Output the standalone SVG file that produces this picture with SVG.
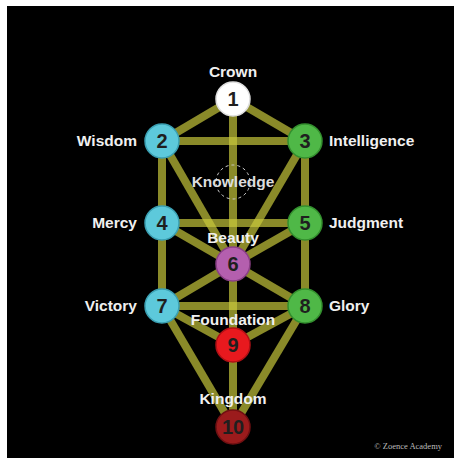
<svg xmlns="http://www.w3.org/2000/svg" width="454" height="458" viewBox="0 0 454 458">
<style>
.c{stroke:#cbcb3c;stroke-opacity:0.68;stroke-width:8;stroke-linecap:butt}
.lbl{font-family:"Liberation Sans",Arial,sans-serif;font-weight:bold;font-size:15.5px;fill:#f0f0f0}
.num{font-family:"Liberation Sans",Arial,sans-serif;font-size:20px;font-weight:bold;fill:#1f1f1f;text-anchor:middle}
.n circle{stroke-width:1.5}
</style>
<rect x="0" y="0" width="454" height="458" fill="#ffffff"/>
<rect x="7" y="6" width="447" height="452" fill="#000000"/>
<g id="connectors">
<line class="c" x1="233" y1="99" x2="162" y2="141"/>
<line class="c" x1="233" y1="99" x2="305" y2="141"/>
<line class="c" x1="233" y1="99" x2="233" y2="264"/>
<line class="c" x1="162" y1="141" x2="305" y2="141"/>
<line class="c" x1="162" y1="141" x2="162" y2="306"/>
<line class="c" x1="305" y1="141" x2="305" y2="306"/>
<line class="c" x1="162" y1="141" x2="233" y2="264"/>
<line class="c" x1="305" y1="141" x2="233" y2="264"/>
<line class="c" x1="162" y1="223" x2="305" y2="223"/>
<line class="c" x1="162" y1="223" x2="233" y2="264"/>
<line class="c" x1="305" y1="223" x2="233" y2="264"/>
<line class="c" x1="233" y1="264" x2="162" y2="306"/>
<line class="c" x1="233" y1="264" x2="305" y2="306"/>
<line class="c" x1="233" y1="264" x2="233" y2="427"/>
<line class="c" x1="162" y1="306" x2="305" y2="306"/>
<line class="c" x1="162" y1="306" x2="233" y2="345"/>
<line class="c" x1="305" y1="306" x2="233" y2="345"/>
<line class="c" x1="162" y1="306" x2="233" y2="427"/>
<line class="c" x1="305" y1="306" x2="233" y2="427"/>
</g>
<g id="knowledge">
<circle cx="233" cy="182" r="17" fill="none" stroke="#cccccc" stroke-width="1" stroke-dasharray="3 3"/>
<text class="lbl" x="233" y="187" text-anchor="middle" style="fill:#dddddd">Knowledge</text>
</g>
<g id="n1" class="n"><circle cx="233" cy="99" r="17" fill="#ffffff" stroke="#dddddd"/><text class="num" x="233" y="106">1</text><text class="lbl" x="233" y="77" text-anchor="middle">Crown</text></g>
<g id="n2" class="n"><circle cx="162" cy="141" r="17" fill="#5dc9db" stroke="#3a9fb2"/><text class="num" x="162" y="148">2</text><text class="lbl" x="137" y="146" text-anchor="end">Wisdom</text></g>
<g id="n3" class="n"><circle cx="305" cy="141" r="17" fill="#4fb847" stroke="#338f2e"/><text class="num" x="305" y="148">3</text><text class="lbl" x="329" y="146">Intelligence</text></g>
<g id="n4" class="n"><circle cx="162" cy="223" r="17" fill="#5dc9db" stroke="#3a9fb2"/><text class="num" x="162" y="230">4</text><text class="lbl" x="137" y="228" text-anchor="end">Mercy</text></g>
<g id="n5" class="n"><circle cx="305" cy="223" r="17" fill="#4fb847" stroke="#338f2e"/><text class="num" x="305" y="230">5</text><text class="lbl" x="329" y="228">Judgment</text></g>
<g id="n6" class="n"><circle cx="233" cy="264" r="17" fill="#b45fae" stroke="#8a3f86"/><text class="num" x="233" y="271">6</text><text class="lbl" x="233" y="243" text-anchor="middle">Beauty</text></g>
<g id="n7" class="n"><circle cx="162" cy="306" r="17" fill="#5dc9db" stroke="#3a9fb2"/><text class="num" x="162" y="313">7</text><text class="lbl" x="137" y="311" text-anchor="end">Victory</text></g>
<g id="n8" class="n"><circle cx="305" cy="306" r="17" fill="#4fb847" stroke="#338f2e"/><text class="num" x="305" y="313">8</text><text class="lbl" x="329" y="311">Glory</text></g>
<g id="n9" class="n"><circle cx="233" cy="345" r="17" fill="#e8191e" stroke="#b01015"/><text class="num" x="233" y="352">9</text><text class="lbl" x="233" y="325" text-anchor="middle">Foundation</text></g>
<g id="n10" class="n"><circle cx="233" cy="427" r="17" fill="#9b1b1c" stroke="#701012"/><text class="num" x="233" y="434">10</text><text class="lbl" x="233" y="404" text-anchor="middle">Kingdom</text></g>
<text x="442" y="449" text-anchor="end" font-family="'Liberation Serif','Times New Roman',serif" font-size="8.5" fill="#bbbbbb">© Zoence Academy</text>
</svg>
